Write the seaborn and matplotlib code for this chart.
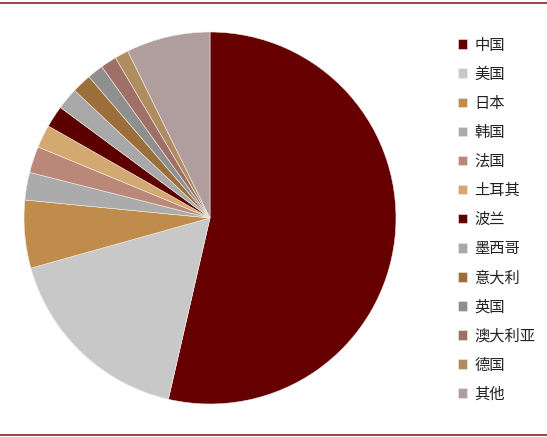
import matplotlib
matplotlib.use('Agg')
import matplotlib.pyplot as plt
import seaborn as sns
from matplotlib.lines import Line2D

## data (share of total, %)
paises = ['中国', '美国', '日本', '韩国', '法国', '土耳其', '波兰',
          '墨西哥', '意大利', '英国', '澳大利亚', '德国', '其他']
valores = [53.7, 17.1, 5.9, 2.4, 2.3, 2.0, 1.9, 1.9, 1.7, 1.4, 1.4, 1.2, 7.3]
cores = ['#660000', '#C8C8C8', '#BF8C4C', '#ABABAB', '#BA8878', '#D4A871',
         '#5C0000', '#A8A8A8', '#9B6E3A', '#8F8F8F', '#9E7067', '#B08D60',
         '#B09E9E']

sns.set_theme(style='white')
plt.rcParams['font.family'] = ['Noto Sans CJK SC', 'DejaVu Sans']

fig = plt.figure(figsize=(5.47, 4.37), dpi=100)
ax = fig.add_axes([24 / 547, 33 / 437, 372 / 547, 372 / 437])

wedges, _ = ax.pie(valores,
                   colors=cores,
                   startangle=90,
                   counterclock=False,
                   radius=1,
                   wedgeprops=dict(edgecolor='#f4ece6', linewidth=0.4))
ax.set_xlim(-1, 1)
ax.set_ylim(-1, 1)
ax.axis('off')

## legend on the right
fig.legend(wedges, paises,
           loc='upper left',
           bbox_to_anchor=(452 / 547, 1 - 30.5 / 437),
           frameon=False,
           fontsize=11,
           labelcolor='#222222',
           handlelength=0.6,
           handleheight=0.6,
           handletextpad=0.45,
           labelspacing=0.79,
           borderaxespad=0)

## dark red rules at top and bottom
for y in (1 - 3 / 437, 1 - 435 / 437):
    fig.add_artist(Line2D([0, 1], [y, y], color='#8B2323', lw=1.2,
                          transform=fig.transFigure))

plt.savefig('out.png', dpi=100)
plt.close()
